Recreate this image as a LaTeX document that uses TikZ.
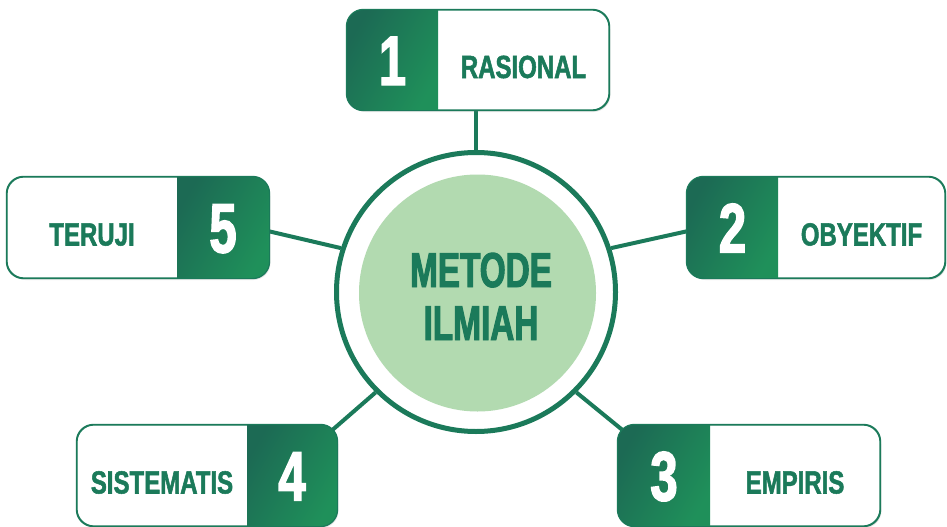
\documentclass[tikz,border=0pt]{standalone}
\usepackage{fontspec}
\usetikzlibrary{calc,shadows,backgrounds}

% condensed heavy faces for labels, step numbers and the hub title
\newfontfamily\labelfont[FakeStretch=0.75,FakeBold=1.6]{Liberation Sans Bold}
\newfontfamily\numfont[FakeStretch=0.70,FakeBold=2]{Liberation Sans Bold}
\newfontfamily\hubfont[FakeStretch=0.68,FakeBold=2]{Liberation Sans Bold}

\definecolor{deepgreen}{HTML}{1B7A5A}
\definecolor{gradA}{HTML}{1C6A54}
\definecolor{gradB}{HTML}{1F905A}
\definecolor{hubfill}{HTML}{B2DAB0}

\tikzset{
  pill/.style={draw=deepgreen, line width=1.2pt, fill=white,
    rounded corners=17pt, inner sep=0pt,
    drop shadow={opacity=0.18, shadow xshift=1.5pt, shadow yshift=-2pt}},
  pillborder/.style={draw=deepgreen, line width=1.2pt, rounded corners=17pt},
  steplabel/.style={text=deepgreen, font=\labelfont\fontsize{32}{32}\selectfont, anchor=base, inner sep=0pt},
  stepnum/.style={text=white, font=\numfont\fontsize{70}{70}\selectfont, anchor=base, inner sep=0pt},
  hubtext/.style={text=deepgreen, font=\hubfont\fontsize{49}{49}\selectfont, anchor=base, inner sep=0pt},
  link/.style={draw=deepgreen, line width=4pt},
}

% #1 name, #2-#5 box x0,y0,x1,y1, #6-#7 green band x0,x1, #8 number, #9 label
\newcommand\pillbox[9]{%
  \node[pill, minimum width={(#4-#2)*1pt}, minimum height={(#5-#3)*1pt}]
    (#1) at ({(#2+#4)/2},{(#3+#5)/2}) {};
  \begin{scope}
    \clip[rounded corners=17pt] (#1.north west) rectangle (#1.south east);
    \shade[left color=gradA, right color=gradB, shading angle=60] (#6,#3) rectangle (#7,#5);
  \end{scope}
  \draw[pillborder] (#1.north west) rectangle (#1.south east);
  \node[stepnum] (#1num) at ({(#6+#7)/2},{(#3+#5)/2+25}) {#8};
  \pgfmathsetmacro\wx{#6<=#2+1 ? (#7+#4)/2 : (#2+#6)/2}
  \node[steplabel] (#1lab) at (\wx,{(#3+#5)/2+18}) {#9};
}

\begin{document}
\begin{tikzpicture}[x=1pt, y=-1pt]
  \useasboundingbox (0,0) rectangle (947,527);

  % central hub
  \node[circle, draw=deepgreen, line width=5pt, fill=white,
        minimum size=279pt, inner sep=0pt] (ring) at (476,292) {};
  \node[circle, fill=hubfill, minimum size=237pt, inner sep=0pt] (hub) at (477.5,293) {};
  \node[hubtext] (hubA) at (481,287) {METODE};
  \node[hubtext] (hubB) at (481,340) {ILMIAH};

  % the five characteristics
  \pillbox{b1}{347}{10}{609}{110}{347}{438}{1}{RASIONAL}
  \pillbox{b2}{687}{177}{945}{278}{687}{778}{2}{OBYEKTIF}
  \pillbox{b3}{618}{425}{880}{526}{618}{710}{3}{EMPIRIS}
  \pillbox{b4}{77}{425}{337}{526}{247}{337}{4}{SISTEMATIS}
  \pillbox{b5}{7}{177}{269}{278}{177}{269}{5}{TERUJI}

  % spokes from the hub to each box
  \begin{scope}[on background layer]
    \draw[link] (ring.north -| 476,0) -- (b1.south -| 476,0);
    \draw[link] (ring.18) -- ($(b2.west)+(4,3)$);
    \draw[link] (ring.-45) -- ($(b3.north west)+(8,8)$);
    \draw[link] (ring.-135) -- ($(b4.north east)+(-8,8)$);
    \draw[link] (ring.162) -- ($(b5.east)+(-4,3)$);
  \end{scope}
\end{tikzpicture}
\end{document}
